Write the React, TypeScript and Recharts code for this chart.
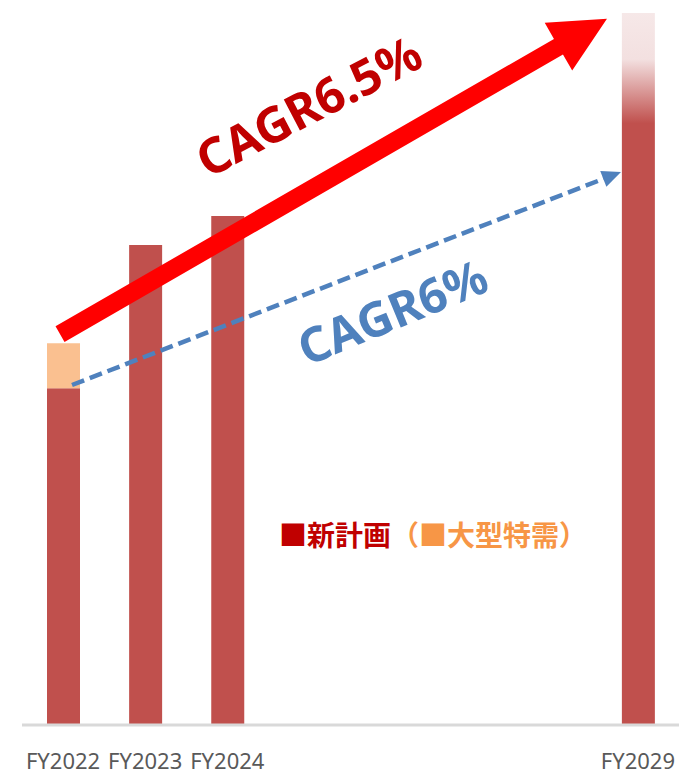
import React from 'react';
import { BarChart, Bar, XAxis, YAxis, Cell, ReferenceLine, Customized } from 'recharts';

// Fiscal years (numeric positions on a year axis) and their tick labels
const years = [2022, 2023, 2024, 2029];
const tickLabels = ['FY2022', 'FY2023', 'FY2024', 'FY2029'];
// Index values (FY2029 plan = 100)
const newPlan = [47.3, 67.4, 71.5, 100];
const specialDemand = [6.3, 0, 0, 0];

// Trend arrows (start / end in year, value coordinates)
const redArrowPts = [
  { x: 2021.963, y: 54.9 },
  { x: 2028.623, y: 99.2 },
];
const blueArrowPts = [
  { x: 2022.109, y: 47.75 },
  { x: 2028.794, y: 77.67 },
];

const data = years.map((y, i) => ({
  year: y,
  label: tickLabels[i],
  plan: newPlan[i],
  special: specialDemand[i],
}));

const labelOf = (v: number) => tickLabels[years.indexOf(v)] ?? `FY${v}`;

const RedArrow = (props: any) => {
  const { x1, y1, x2, y2 } = props;
  const dx = x2 - x1;
  const dy = y2 - y1;
  const len = Math.hypot(dx, dy);
  const ux = dx / len;
  const uy = dy / len;
  const px = -uy;
  const py = ux;
  const sw = 18 / 2;
  const hw = 55 / 2;
  const hl = 56;
  const bx = x2 - ux * hl;
  const by = y2 - uy * hl;
  const pts = [
    [x1 + px * sw, y1 + py * sw],
    [bx + px * sw, by + py * sw],
    [bx + px * hw, by + py * hw],
    [x2, y2],
    [bx - px * hw, by - py * hw],
    [bx - px * sw, by - py * sw],
    [x1 - px * sw, y1 - py * sw],
  ]
    .map((p) => p.join(','))
    .join(' ');
  return <polygon points={pts} fill="#ff0000" />;
};

const BlueArrow = (props: any) => {
  const { x1, y1, x2, y2 } = props;
  const dx = x2 - x1;
  const dy = y2 - y1;
  const len = Math.hypot(dx, dy);
  const ux = dx / len;
  const uy = dy / len;
  const px = -uy;
  const py = ux;
  const hw = 17 / 2;
  const hl = 19;
  const bx = x2 - ux * hl;
  const by = y2 - uy * hl;
  const pts = [
    [bx + px * hw, by + py * hw],
    [x2, y2],
    [bx - px * hw, by - py * hw],
  ]
    .map((p) => p.join(','))
    .join(' ');
  return (
    <g>
      <line
        x1={x1}
        y1={y1}
        x2={bx + ux * 2}
        y2={by + uy * 2}
        stroke="#4f81bd"
        strokeWidth={4.5}
        strokeDasharray="13 6"
      />
      <polygon points={pts} fill="#4f81bd" />
    </g>
  );
};

const Annotations = () => (
  <g>
    <text
      x={308}
      y={105}
      transform="rotate(-27.5 308 105)"
      textAnchor="middle"
      dominantBaseline="central"
      fontFamily="'Noto Sans', sans-serif"
      fontWeight={700}
      fontSize={49}
      fill="#c00000"
    >
      CAGR6.5%
    </text>
    <text
      x={392}
      y={311}
      transform="rotate(-22.5 392 311)"
      textAnchor="middle"
      dominantBaseline="central"
      fontFamily="'Noto Sans', sans-serif"
      fontWeight={700}
      fontSize={48}
      fill="#4f81bd"
    >
      CAGR6%
    </text>
    <text
      x={279}
      y={546}
      fontFamily="'Noto Sans CJK JP', sans-serif"
      fontWeight={700}
      fontSize={28}
    >
      <tspan fill="#c00000">■新計画</tspan>
      <tspan fill="#f79646">（■大型特需）</tspan>
    </text>
  </g>
);

export default function App() {
  return (
    <div style={{ position: 'absolute', left: 0, top: 0, width: 679, height: 774, background: '#fff' }}>
      <svg width={0} height={0} style={{ position: 'absolute' }}>
        <defs>
          <linearGradient id="fy2029Grad" x1="0" y1="0" x2="0" y2="1">
            <stop offset="0%" stopColor="#f6e8e8" />
            <stop offset="6.5%" stopColor="#f3e0e0" />
            <stop offset="10%" stopColor="#dfa8a7" />
            <stop offset="15.5%" stopColor="#c0504d" />
            <stop offset="100%" stopColor="#c0504d" />
          </linearGradient>
        </defs>
      </svg>
      <BarChart
        width={679}
        height={774}
        data={data}
        margin={{ top: 13, right: 0, bottom: 0, left: 22 }}
      >
        <XAxis
          type="number"
          dataKey="year"
          domain={[2021.5, 2029.5]}
          ticks={years}
          interval={0}
          tickFormatter={labelOf}
          tickLine={false}
          tickMargin={22}
          height={49}
          axisLine={{ stroke: '#d9d9d9', strokeWidth: 3 }}
          tick={{ fill: '#595959', fontSize: 22, fontFamily: "'Noto Sans', sans-serif" }}
        />
        <YAxis hide domain={[0, 100]} />
        <Bar dataKey="plan" stackId="s" fill="#c0504d" barSize={33} isAnimationActive={false}>
          {data.map((d, i) => (
            <Cell key={d.label} fill={i === data.length - 1 ? 'url(#fy2029Grad)' : '#c0504d'} />
          ))}
        </Bar>
        <Bar dataKey="special" stackId="s" fill="#fac090" barSize={33} isAnimationActive={false} />
        <ReferenceLine segment={redArrowPts} ifOverflow="visible" shape={RedArrow} />
        <ReferenceLine segment={blueArrowPts} ifOverflow="visible" shape={BlueArrow} />
        <Customized component={<Annotations />} />
      </BarChart>
    </div>
  );
}
